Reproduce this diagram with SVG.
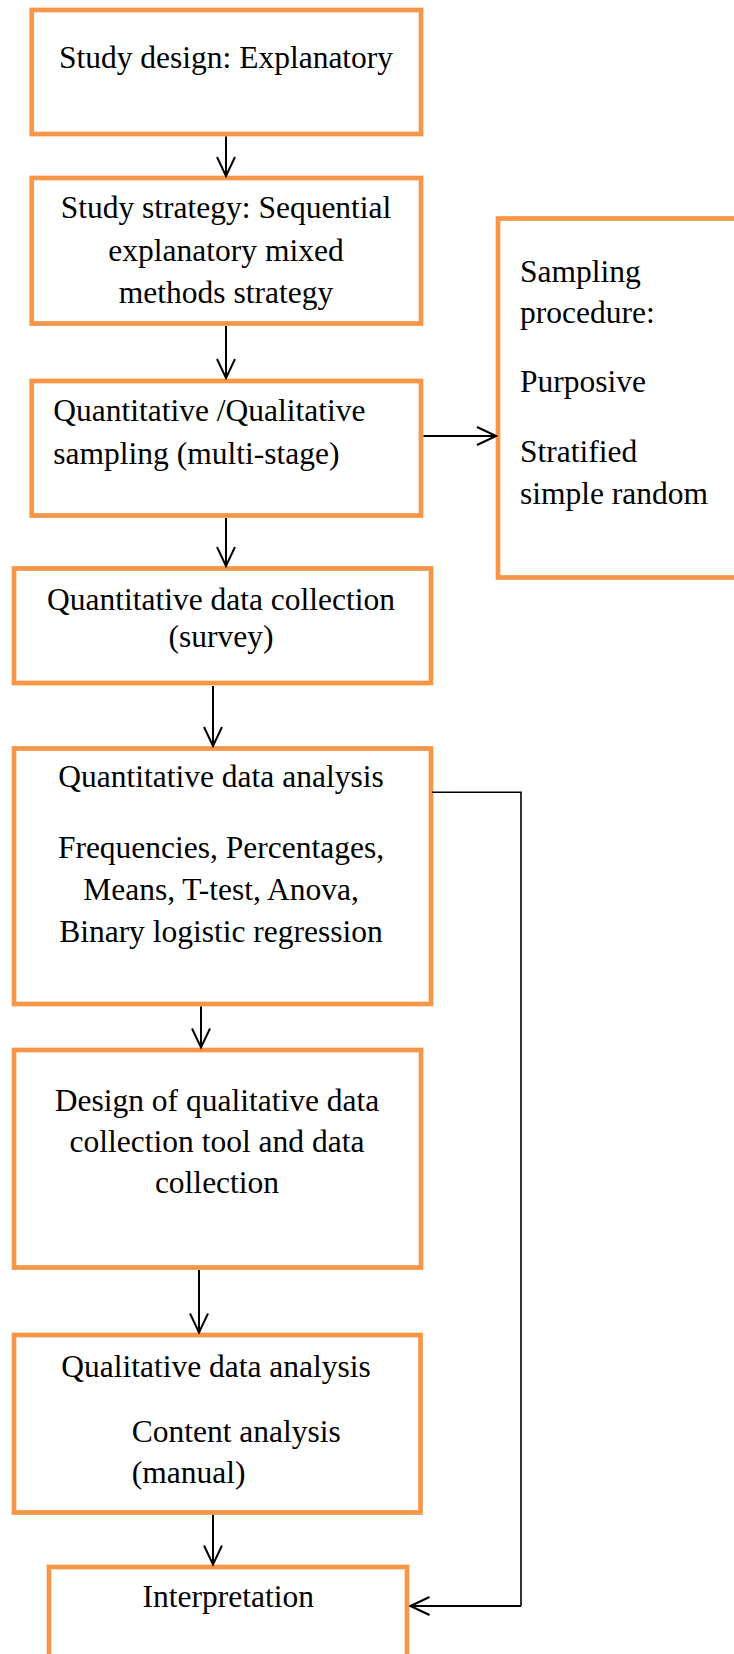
<svg xmlns="http://www.w3.org/2000/svg" width="734" height="1654" viewBox="0 0 734 1654">
<style>
.box{fill:#ffffff;stroke:#F79646;stroke-width:4.7;}
.t{font-family:"Liberation Serif","Times New Roman",serif;font-size:31.5px;fill:#000000;}
.m{text-anchor:middle;}
.arr{stroke:#000000;stroke-width:2;fill:none;marker-end:url(#ah);}
.thin{stroke:#000000;stroke-width:1.6;fill:none;}
</style>
<defs>
<marker id="ah" markerUnits="userSpaceOnUse" viewBox="-22 -12 24 24" markerWidth="24" markerHeight="24" refX="0" refY="0" orient="auto">
<path d="M-19,-9 L0,0 L-19,9" fill="none" stroke="#000000" stroke-width="2"/>
</marker>
</defs>
<rect x="0" y="0" width="734" height="1654" fill="#ffffff"/>
<g id="n1">
<rect class="box" x="31.7" y="10" width="389.3" height="124"/>
<text class="t m" x="226" y="68.3">Study design: Explanatory</text>
</g>
<g id="n2">
<rect class="box" x="31.7" y="178" width="389.3" height="145.5"/>
<text class="t m" x="226" y="218.3">Study strategy: Sequential</text>
<text class="t m" x="226" y="260.7">explanatory mixed</text>
<text class="t m" x="226" y="303.3">methods strategy</text>
</g>
<g id="n3">
<rect class="box" x="31.7" y="381" width="389.3" height="134.5"/>
<text class="t" x="53.3" y="420.7">Quantitative /Qualitative</text>
<text class="t" x="53.3" y="464">sampling (multi-stage)</text>
</g>
<g id="n_sampling">
<rect class="box" x="498" y="218.5" width="260" height="359"/>
<text class="t" x="520" y="281.7">Sampling</text>
<text class="t" x="520" y="323.3">procedure:</text>
<text class="t" x="520" y="392.3">Purposive</text>
<text class="t" x="520" y="461.7">Stratified</text>
<text class="t" x="520" y="504">simple random</text>
</g>
<g id="n4">
<rect class="box" x="14" y="568.5" width="417" height="114.5"/>
<text class="t m" x="221" y="610">Quantitative data collection</text>
<text class="t m" x="221" y="647">(survey)</text>
</g>
<g id="n5">
<rect class="box" x="14" y="748.5" width="417" height="255.5"/>
<text class="t m" x="221" y="786.7">Quantitative data analysis</text>
<text class="t m" x="221" y="858.3">Frequencies, Percentages,</text>
<text class="t m" x="221" y="900">Means, T-test, Anova,</text>
<text class="t m" x="221" y="941.7">Binary logistic regression</text>
</g>
<g id="n6">
<rect class="box" x="14" y="1050" width="407" height="217.5"/>
<text class="t m" x="217" y="1110.7">Design of qualitative data</text>
<text class="t m" x="217" y="1151.7">collection tool and data</text>
<text class="t m" x="217" y="1193.3">collection</text>
</g>
<g id="n7">
<rect class="box" x="14" y="1335" width="406.5" height="177.5"/>
<text class="t m" x="216" y="1376.7">Qualitative data analysis</text>
<text class="t" x="131.7" y="1441.7">Content analysis</text>
<text class="t" x="131.7" y="1483.3">(manual)</text>
</g>
<g id="n8">
<rect class="box" x="49" y="1567" width="358" height="130"/>
<text class="t m" x="228.3" y="1607.3">Interpretation</text>
</g>
<g id="connectors">
<line class="arr" x1="226" y1="136.5" x2="226" y2="176"/>
<line class="arr" x1="226" y1="326" x2="226" y2="378"/>
<line class="arr" x1="423.5" y1="436" x2="496" y2="436"/>
<line class="arr" x1="226" y1="518" x2="226" y2="566"/>
<line class="arr" x1="213" y1="686" x2="213" y2="746"/>
<line class="arr" x1="201" y1="1006.5" x2="201" y2="1047.5"/>
<line class="arr" x1="199" y1="1270" x2="199" y2="1332.5"/>
<line class="arr" x1="213" y1="1515" x2="213" y2="1564.5"/>
<polyline class="thin" points="432,792.3 521,792.3 521,1606"/>
<line class="arr" x1="521" y1="1606" x2="410.5" y2="1606"/>
</g>
</svg>
